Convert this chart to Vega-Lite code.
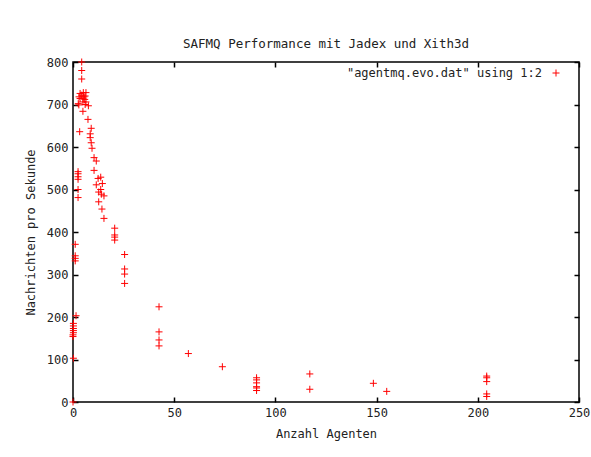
{
  "$schema": "https://vega.github.io/schema/vega-lite/v6.json",
  "width": 506,
  "height": 340,
  "autosize": {"type": "none"},
  "padding": {"left": 73, "top": 62, "right": 12, "bottom": 55},
  "background": "white",
  "title": {
    "text": "SAFMQ Performance mit Jadex und Xith3d",
    "font": "DejaVu Sans Mono",
    "fontSize": 12.5,
    "fontWeight": "normal",
    "color": "#222",
    "anchor": "middle",
    "offset": 6
  },
  "config": {
    "view": {"stroke": "black", "strokeWidth": 1.5},
    "axis": {
      "grid": false,
      "domain": false,
      "labelFont": "DejaVu Sans Mono",
      "labelFontSize": 12,
      "labelColor": "#222",
      "titleFont": "DejaVu Sans Mono",
      "titleFontSize": 12,
      "titleFontWeight": "normal",
      "titleColor": "#222",
      "tickColor": "black",
      "tickWidth": 1.5,
      "tickSize": -5
    }
  },
  "data": {
    "values": [
      {"agenten": 4.3, "nachrichten": 800}, {"agenten": 4.3, "nachrichten": 780}, {"agenten": 4.3, "nachrichten": 760},
      {"agenten": 3.5, "nachrichten": 726}, {"agenten": 5.1, "nachrichten": 728}, {"agenten": 6.4, "nachrichten": 728},
      {"agenten": 4.3, "nachrichten": 722}, {"agenten": 5.4, "nachrichten": 718}, {"agenten": 3.5, "nachrichten": 714},
      {"agenten": 6.0, "nachrichten": 720}, {"agenten": 5.8, "nachrichten": 712}, {"agenten": 4.9, "nachrichten": 706},
      {"agenten": 6.4, "nachrichten": 706}, {"agenten": 2.6, "nachrichten": 702}, {"agenten": 2.9, "nachrichten": 699},
      {"agenten": 3.0, "nachrichten": 718}, {"agenten": 5.0, "nachrichten": 715}, {"agenten": 6.0, "nachrichten": 700},
      {"agenten": 7.6, "nachrichten": 697}, {"agenten": 4.9, "nachrichten": 684}, {"agenten": 7.4, "nachrichten": 665},
      {"agenten": 9.0, "nachrichten": 644}, {"agenten": 3.3, "nachrichten": 636}, {"agenten": 8.5, "nachrichten": 631},
      {"agenten": 8.5, "nachrichten": 622}, {"agenten": 9.0, "nachrichten": 610}, {"agenten": 9.4, "nachrichten": 597},
      {"agenten": 10.4, "nachrichten": 575}, {"agenten": 11.5, "nachrichten": 567}, {"agenten": 10.4, "nachrichten": 545},
      {"agenten": 2.5, "nachrichten": 542}, {"agenten": 2.5, "nachrichten": 537}, {"agenten": 2.5, "nachrichten": 530},
      {"agenten": 2.5, "nachrichten": 524}, {"agenten": 12.4, "nachrichten": 526}, {"agenten": 13.7, "nachrichten": 529},
      {"agenten": 11.5, "nachrichten": 511}, {"agenten": 14.5, "nachrichten": 514}, {"agenten": 13.7, "nachrichten": 500},
      {"agenten": 12.7, "nachrichten": 494}, {"agenten": 14.0, "nachrichten": 489}, {"agenten": 15.3, "nachrichten": 485},
      {"agenten": 2.5, "nachrichten": 500}, {"agenten": 2.5, "nachrichten": 481}, {"agenten": 12.7, "nachrichten": 471},
      {"agenten": 14.3, "nachrichten": 454}, {"agenten": 15.3, "nachrichten": 432}, {"agenten": 20.6, "nachrichten": 409},
      {"agenten": 20.6, "nachrichten": 393}, {"agenten": 20.6, "nachrichten": 388}, {"agenten": 20.6, "nachrichten": 381},
      {"agenten": 1.1, "nachrichten": 371}, {"agenten": 1.1, "nachrichten": 344}, {"agenten": 1.1, "nachrichten": 338},
      {"agenten": 1.1, "nachrichten": 332}, {"agenten": 25.5, "nachrichten": 347}, {"agenten": 25.5, "nachrichten": 313},
      {"agenten": 25.5, "nachrichten": 301}, {"agenten": 25.5, "nachrichten": 279}, {"agenten": 42.5, "nachrichten": 224},
      {"agenten": 42.5, "nachrichten": 165}, {"agenten": 42.5, "nachrichten": 146}, {"agenten": 42.5, "nachrichten": 132},
      {"agenten": 57, "nachrichten": 114}, {"agenten": 73.8, "nachrichten": 83}, {"agenten": 90.7, "nachrichten": 57},
      {"agenten": 90.7, "nachrichten": 52}, {"agenten": 90.7, "nachrichten": 45}, {"agenten": 90.7, "nachrichten": 36},
      {"agenten": 90.7, "nachrichten": 33}, {"agenten": 90.7, "nachrichten": 27}, {"agenten": 117, "nachrichten": 66},
      {"agenten": 117, "nachrichten": 30}, {"agenten": 148.4, "nachrichten": 44}, {"agenten": 155, "nachrichten": 25},
      {"agenten": 204.4, "nachrichten": 61}, {"agenten": 204.4, "nachrichten": 57}, {"agenten": 204.4, "nachrichten": 48},
      {"agenten": 204.4, "nachrichten": 19}, {"agenten": 204.4, "nachrichten": 13}, {"agenten": 1.5, "nachrichten": 203},
      {"agenten": 0.2, "nachrichten": 185}, {"agenten": 0.2, "nachrichten": 179}, {"agenten": 0.2, "nachrichten": 173},
      {"agenten": 0.2, "nachrichten": 168}, {"agenten": 0.2, "nachrichten": 163}, {"agenten": 0, "nachrichten": 158},
      {"agenten": 0, "nachrichten": 154}, {"agenten": 0.2, "nachrichten": 103}, {"agenten": 0, "nachrichten": 0}
    ]
  },
  "layer": [
    {
      "mark": {
        "type": "point",
        "shape": "M-1,0L1,0M0,-1L0,1",
        "filled": false,
        "size": 49,
        "strokeWidth": 1,
        "opacity": 1,
        "clip": false
      },
      "encoding": {
        "x": {
          "field": "agenten",
          "type": "quantitative",
          "scale": {"domain": [0, 250], "nice": false, "zero": false},
          "axis": {
            "title": "Anzahl Agenten",
            "values": [0, 50, 100, 150, 200, 250],
            "labelPadding": 10,
            "titlePadding": 10,
            "labelFlush": false
          }
        },
        "y": {
          "field": "nachrichten",
          "type": "quantitative",
          "scale": {"domain": [0, 800], "nice": false, "zero": false},
          "axis": {
            "title": "Nachrichten pro Sekunde",
            "values": [0, 100, 200, 300, 400, 500, 600, 700, 800],
            "labelPadding": 10,
            "titlePadding": 9,
            "labelFlush": false
          }
        },
        "color": {
          "datum": "\"agentmq.evo.dat\" using 1:2",
          "type": "nominal",
          "scale": {"range": ["#ff0000"]},
          "legend": {
            "title": null,
            "orient": "none",
            "legendX": 477,
            "legendY": 5,
            "labelFont": "DejaVu Sans Mono",
            "labelFontSize": 12,
            "labelColor": "#222",
            "labelAlign": "right",
            "labelOffset": -20,
            "labelLimit": 400,
            "symbolType": "M-1,0L1,0M0,-1L0,1",
            "symbolSize": 49,
            "symbolStrokeWidth": 1,
            "symbolStrokeColor": "#ff0000",
            "symbolFillColor": "transparent"
          }
        }
      }
    },
    {
      "mark": {"type": "point", "opacity": 0, "clip": false},
      "encoding": {
        "x": {
          "field": "agenten",
          "type": "quantitative",
          "scale": {"domain": [0, 250], "nice": false, "zero": false},
          "axis": {"orient": "top", "title": null, "labels": false, "values": [0, 50, 100, 150, 200, 250]}
        },
        "y": {
          "field": "nachrichten",
          "type": "quantitative",
          "scale": {"domain": [0, 800], "nice": false, "zero": false},
          "axis": {"orient": "right", "title": null, "labels": false, "values": [0, 100, 200, 300, 400, 500, 600, 700, 800]}
        }
      }
    }
  ],
  "resolve": {"axis": {"x": "independent", "y": "independent"}}
}
